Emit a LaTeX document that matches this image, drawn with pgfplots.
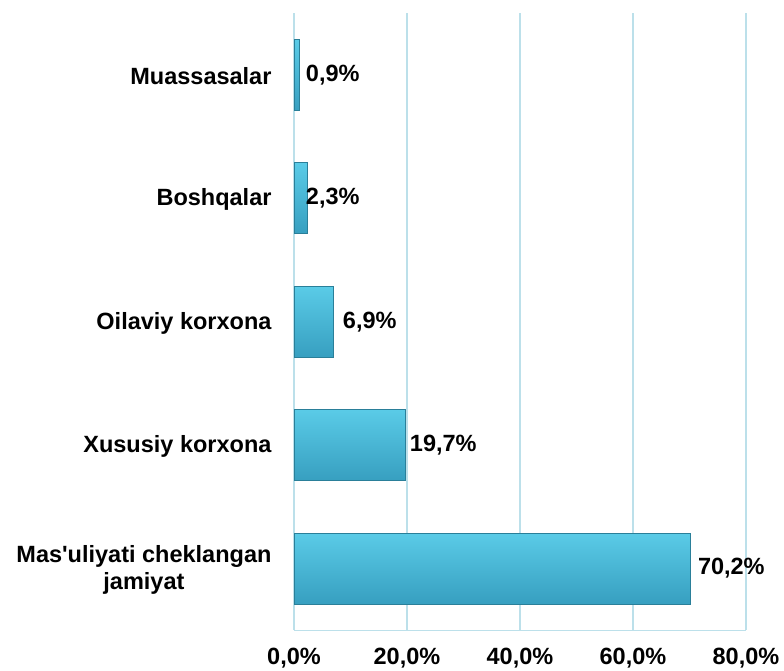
\documentclass[border=0pt]{standalone}
\usepackage{pgfplots}
\pgfplotsset{compat=1.18}
\usepackage{fontspec}
\setmainfont{Liberation Sans}
\definecolor{gridc}{HTML}{BCE0EA}
\definecolor{barT}{HTML}{5ACBE7}
\definecolor{barM}{HTML}{3CB6D9}
\definecolor{barB}{HTML}{379FC0}
\definecolor{barE}{HTML}{2A7F99}
\pgfplotsset{mybar/.style={xbar, bar width=71pt, bar shift=0pt, draw=barE, line width=0.9pt, top color=barT, middle color=barM, bottom color=barB}}
\begin{document}
\begin{tikzpicture}[x=1pt,y=1pt]
\useasboundingbox (0,0) rectangle (784,671);
\begin{axis}[
  at={(294pt,40.8pt)}, anchor=south west,
  width=452pt, height=616.9pt, scale only axis,
  xbar, bar width=71pt, bar shift=0pt,
  xmin=0, xmax=80, ymin=-0.5, ymax=4.5,
  xtick={0,20,40,60,80},
  xticklabels={{0,0\%},{20,0\%},{40,0\%},{60,0\%},{80,0\%}},
  ytick={0,1,2,3,4},
  yticklabels={{Mas\textquotesingle uliyati cheklangan\\jamiyat},{Xususiy korxona},{Oilaviy korxona},{Boshqalar},{Muassasalar}},
  major tick length=0pt,
  axis lines=left,
  axis line style={draw=gridc, line width=1.2pt, -},
  xmajorgrids,
  grid style={draw=gridc, line width=1.2pt},
  tick label style={font=\fontsize{23.5}{27}\selectfont\bfseries},
  xticklabel style={yshift=-14pt},
  yticklabel style={align=center, xshift=-19pt, yshift=-1.5pt},
  /pgf/number format/assume math mode=true,
  point meta=x,
  nodes near coords={\pgfmathprintnumber[fixed,fixed zerofill,precision=1,use comma]{\pgfplotspointmeta}\%},
  nodes near coords style={font=\fontsize{23.5}{27}\selectfont\bfseries, anchor=west, text=black},
]
\addplot[mybar, nodes near coords style={xshift=3.6pt}] coordinates {(70.2,0)};
\addplot[mybar, nodes near coords style={xshift=0.9pt}] coordinates {(19.7,1)};
\addplot[mybar, nodes near coords style={xshift=6.2pt}] coordinates {(6.9,2)};
\addplot[mybar, nodes near coords style={xshift=-4.8pt}] coordinates {(2.3,3)};
\addplot[mybar, nodes near coords style={xshift=3.1pt}] coordinates {(0.9,4)};
\end{axis}
\end{tikzpicture}
\end{document}
